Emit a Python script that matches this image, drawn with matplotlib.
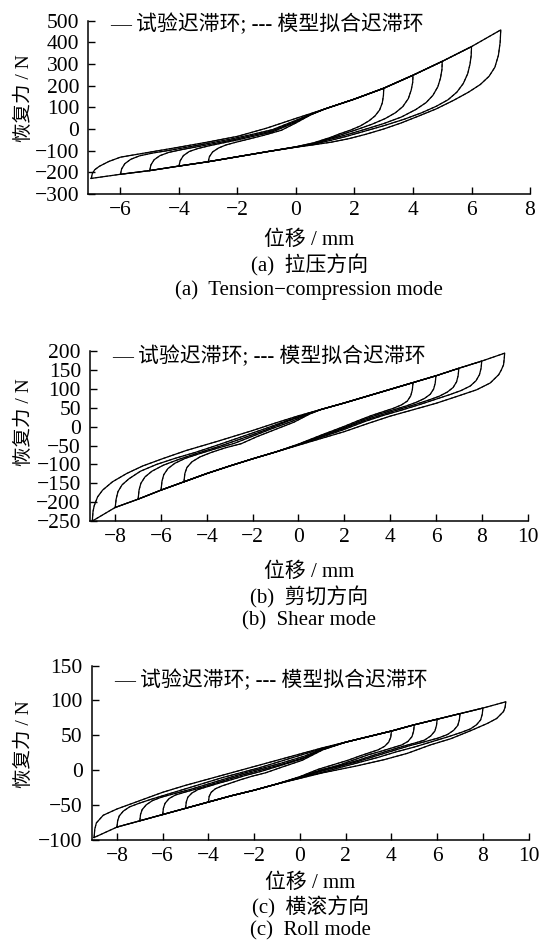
import matplotlib
matplotlib.use("Agg")
import matplotlib.pyplot as plt

plt.rcParams['font.family'] = ['Liberation Serif', 'Noto Sans CJK SC']
plt.rcParams['axes.unicode_minus'] = True

LEGEND_TXT = "— 试验迟滞环; --- 模型拟合迟滞环"
Y_LABEL = "恢复力 / N"
X_LABEL = "位移 / mm"

# ---- (a) tension-compression ----
A_AMPS = [3, 4, 5, 6, 7]
A_UP_X = [1, 2, 3, 4, 5, 6, 7]
A_UP_F = [93, 138, 188, 248, 312, 380, 457]
A_LO_X = [-1, -2, -3, -4, -5, -6, -7]
A_LO_F = [-105, -128, -151, -171, -192, -209, -228]
A_LT_X = [[-3, -2.96, -2.85, -2.65, -2.4, -2.05, -1.6, -1.1, -0.5, 0, 0.5],
          [-4, -3.96, -3.85, -3.65, -3.35, -2.95, -2.45, -1.95, -1.4, -0.8, 0, 0.5],
          [-5, -4.96, -4.85, -4.65, -4.35, -3.9, -3.3, -2.7, -2.1, -1.5, -0.8, 0, 0.5],
          [-6, -5.96, -5.85, -5.65, -5.35, -4.9, -4.3, -3.6, -2.9, -2.2, -1.5, -0.8, 0, 0.5],
          [-7, -6.96, -6.88, -6.72, -6.4, -6, -5, -4, -3, -2, -1, 0]]
A_LT_F = [[-151, -128, -106, -88, -74, -61, -46, -29, -6, 28, 65],
          [-171, -147, -123, -104, -90, -77, -63, -49, -32, -13, 32, 66],
          [-192, -166, -142, -123, -108, -95, -80, -65, -49, -30, -8, 36, 67],
          [-209, -184, -160, -140, -124, -111, -98, -81, -64, -46, -25, -3, 40, 68],
          [-228, -205, -188, -172, -150, -130, -107, -84, -60, -34, 4, 49]]
A_RT_X = [[3, 2.99, 2.95, 2.86, 2.7, 2.5, 2.2, 1.85, 1.5, 1.2, 0.6, 0],
          [4, 3.99, 3.94, 3.84, 3.65, 3.4, 3.05, 2.6, 2.1, 1.6, 1.2, 0.6, 0],
          [5, 4.99, 4.94, 4.85, 4.68, 4.45, 4.1, 3.6, 3.0, 2.4, 1.8, 1.2, 0.6, 0],
          [6, 5.99, 5.95, 5.87, 5.72, 5.5, 5.2, 4.8, 4.3, 3.7, 3.0, 2.3, 1.7, 1.2, 0.6, 0],
          [7, 6.98, 6.92, 6.8, 6.6, 6.3, 5.9, 5.4, 4.8, 4.2, 3.6, 3.0, 2.4, 1.8, 1.2, 0.6, 0]]
A_RT_F = [[188, 155, 120, 88, 60, 38, 14, -6, -22, -38, -64, -82],
          [248, 215, 180, 140, 103, 75, 48, 22, -2, -24, -42, -67, -82.5],
          [312, 275, 235, 195, 155, 122, 90, 55, 25, 0, -24, -46, -69, -83],
          [380, 340, 300, 255, 210, 170, 135, 105, 75, 45, 15, -12, -35, -52, -71, -83.5],
          [457, 400, 340, 285, 243, 205, 170, 133, 93, 60, 28, 0, -24, -45, -61, -73, -84]]

# ---- (b) shear ----
B_AMPS = [5, 6, 7, 8, 9]
B_UP_X = [1, 2, 3, 4, 5, 6, 7, 8, 9]
B_UP_F = [46, 63, 81, 99, 117, 135, 155, 174, 195]
B_LO_X = [1, 0, -1, -2, -3, -4, -5, -6, -7, -8, -9]
B_LO_F = [-31, -49, -67, -85, -104, -124, -146, -168, -192, -214, -250]
B_LT_X = [[-5, -4.96, -4.87, -4.65, -4.3, -3.8, -3.2, -2.5, -1.8, -1, -0.2, 0.5],
          [-6, -5.96, -5.88, -5.7, -5.4, -4.95, -4.35, -3.6, -2.8, -2, -1.2, -0.3, 0.5],
          [-7, -6.96, -6.88, -6.7, -6.4, -5.9, -5.2, -4.4, -3.5, -2.5, -1.5, -0.5, 0.5],
          [-8, -7.96, -7.88, -7.7, -7.4, -6.9, -6.2, -5.4, -4.5, -3.5, -2.5, -1.5, -0.5, 0.5],
          [-9, -8.97, -8.92, -8.77, -8.55, -8.12, -7.5, -6.8, -5.9, -4.9, -3.5, -2, -1, 0]]
B_LT_F = [[-146, -124, -108, -93, -80, -68, -56, -45, -26, -7, 12, 34],
          [-168, -145, -127, -111, -97, -84, -72, -58, -44, -25, -6, 14, 35],
          [-192, -168, -150, -133, -118, -102, -86, -70, -53, -32, -10, 14, 36],
          [-214, -192, -172, -154, -138, -118, -100, -84, -68, -48, -27, -6, 16, 37],
          [-250, -225, -210, -186, -168, -146, -124, -104, -84, -63, -38, -10, 10, 29]]
B_RT_X = [[5, 4.97, 4.9, 4.75, 4.5, 4.15, 3.7, 3.2, 2.6, 2, 1, 0],
          [6, 5.97, 5.9, 5.75, 5.5, 5.15, 4.7, 4.1, 3.5, 2.8, 2, 1, 0],
          [7, 6.97, 6.9, 6.75, 6.5, 6.15, 5.7, 5.1, 4.4, 3.7, 2.9, 2, 1, 0],
          [8, 7.97, 7.9, 7.75, 7.5, 7.1, 6.6, 6, 5.3, 4.5, 3.7, 2.9, 2, 1, 0],
          [9, 8.98, 8.95, 8.85, 8.74, 8.37, 7.78, 6.9, 6, 5, 4, 3, 2]]
B_RT_F = [[117, 98, 82, 68, 58, 49, 40, 30, 16, 1, -22, -46],
          [135, 116, 100, 86, 75, 65, 55, 44, 33, 18, -2, -24, -47],
          [155, 136, 119, 104, 92, 81, 71, 59, 46, 33, 17, -4, -26, -47.5],
          [174, 155, 138, 122, 108, 96, 85, 73, 59, 44, 30, 14, -7, -28, -48],
          [195, 180, 164, 150, 138, 116, 98, 80, 62, 45, 28, 8, -13]]

# ---- (c) roll ----
C_AMPS = [4, 5, 6, 7, 8, 9]
C_UP_X = [2, 3, 4, 5, 6, 7, 8, 9]
C_UP_F = [40, 48, 56, 65, 73, 81, 89, 98]
C_LO_X = [1, 0, -1, -2, -3, -4, -5, -6, -7, -8, -9]
C_LO_F = [-4, -12, -20, -29, -37, -46, -55, -64, -73, -82, -97]
C_LT_X = [[-4, -3.97, -3.88, -3.7, -3.42, -3.05, -2.6, -2.1, -1.5, -0.8, 0.1, 1],
          [-5, -4.97, -4.9, -4.72, -4.45, -4.05, -3.55, -3, -2.4, -1.7, -0.9, 0.1, 1],
          [-6, -5.97, -5.9, -5.72, -5.45, -5.05, -4.5, -3.9, -3.2, -2.5, -1.7, -0.8, 0.2, 1],
          [-7, -6.97, -6.9, -6.72, -6.45, -6.05, -5.5, -4.8, -4.1, -3.3, -2.5, -1.7, -0.8, 0.2, 1],
          [-8, -7.97, -7.9, -7.72, -7.45, -7.05, -6.5, -5.8, -5, -4.2, -3.4, -2.6, -1.8, -1, 0, 1],
          [-9, -8.97, -8.9, -8.6, -8, -7, -6, -5, -4, -3, -2, -1, 0, 1]]
C_LT_F = [[-46, -38, -32, -27, -23, -19, -14, -9, -4, 4, 14, 29],
          [-55, -46, -39, -33, -28, -24, -19, -14, -8, -2, 6, 16, 29.5],
          [-64, -55, -48, -41, -36, -32, -27, -21, -14, -7, 0, 8, 18, 30],
          [-73, -64, -57, -50, -44, -39, -34, -28, -21, -13, -5, 2, 10, 20, 30.5],
          [-82, -73, -66, -59, -53, -48, -42, -35, -27, -19, -11, -4, 3, 11, 21, 31],
          [-97, -85, -76, -65, -56, -44, -32, -22, -13, -4, 5, 14, 23, 32]]
C_RT_X = [[4, 3.97, 3.88, 3.7, 3.42, 3.05, 2.6, 2.1, 1.5, 0.8, 0],
          [5, 4.97, 4.9, 4.72, 4.45, 4.05, 3.55, 3, 2.4, 1.7, 0.9, 0],
          [6, 5.97, 5.9, 5.72, 5.45, 5.05, 4.5, 3.9, 3.2, 2.5, 1.7, 0.9, 0],
          [7, 6.97, 6.9, 6.72, 6.45, 6.05, 5.5, 4.8, 4.1, 3.3, 2.5, 1.7, 0.9, 0],
          [8, 7.97, 7.9, 7.72, 7.45, 7.05, 6.5, 5.8, 5, 4.2, 3.4, 2.6, 1.8, 1, 0],
          [9, 8.97, 8.9, 8.6, 8.2, 7.5, 6.6, 5.7, 4.7, 3.7, 2.5]]
C_RT_F = [[56, 47, 40, 34, 29, 25, 20, 14, 8, 1, -9.5],
          [65, 56, 48, 41, 36, 32, 27, 22, 15, 7, 0, -10],
          [73, 64, 56, 49, 43, 39, 34, 28, 21, 13.5, 6, -1, -10.5],
          [81, 72, 64, 57, 51, 46, 41, 35, 28, 20, 12, 5, -2, -11],
          [89, 80, 72, 65, 59, 54, 48, 41, 33, 26, 18, 11, 4, -3, -11.5],
          [98, 90, 84, 74, 67, 57, 45, 36, 24, 15, 6]]


def make_loop(amp, lt_x, lt_f, rt_x, rt_f, up_x, up_f, lo_x, lo_f):
  # loading branch: left turn, then the shared upper curve up to +amp
  xs, fs = list(lt_x), list(lt_f)
  for x, f in zip(up_x, up_f):
    if lt_x[-1] < x < amp:
      xs.append(x); fs.append(f)
  # unloading branch: right turn, then the shared lower curve back to -amp
  xs += rt_x; fs += rt_f
  for x, f in zip(lo_x, lo_f):
    if -amp < x < rt_x[-1]:
      xs.append(x); fs.append(f)
  xs.append(lt_x[0]); fs.append(lt_f[0])
  return xs, fs


def draw_panel(fig, rect, data, xlim, ylim, xticks, yticks, leg_y, ylab_xy,
               xlab_y, cap_cn, cap_en, cap_y1, cap_y2):
  amps, up_x, up_f, lo_x, lo_f, lt_x, lt_f, rt_x, rt_f = data
  ax = fig.add_axes(rect)
  for i, a in enumerate(amps):
    xs, fs = make_loop(a, lt_x[i], lt_f[i], rt_x[i], rt_f[i], up_x, up_f, lo_x, lo_f)
    ax.plot(xs, fs, color='black', lw=0.9)
    ax.plot(xs, fs, color='black', lw=0.7, linestyle=(0, (3, 2)))
  ax.set_xlim(*xlim)
  ax.set_ylim(*ylim)
  ax.set_xticks(xticks)
  ax.set_yticks(yticks)
  for s in ['top', 'right']:
    ax.spines[s].set_visible(False)
  for s in ['left', 'bottom']:
    ax.spines[s].set_linewidth(1.1)
  ax.tick_params(direction='in', length=5, width=1.0, labelsize=15.5)
  ax.tick_params(axis='y', pad=6.5)
  ax.tick_params(axis='x', pad=5)
  ax.text(0.05, leg_y, LEGEND_TXT, transform=ax.transAxes, ha='left',
          va='center', fontsize=15)
  ax.set_ylabel(Y_LABEL, fontsize=14)
  ax.yaxis.set_label_coords(*ylab_xy)
  cx = rect[0] + rect[2] / 2
  fig.text(cx, xlab_y, X_LABEL, ha='center', va='center', fontsize=15)
  fig.text(cx, cap_y1, cap_cn, ha='center', va='center', fontsize=15)
  fig.text(cx, cap_y2, cap_en, ha='center', va='center', fontsize=15)
  return ax


def main():
  fig = plt.figure(figsize=(5.4, 9.4), dpi=100)
  H = 940.0
  draw_panel(fig, [0.1635, 0.7936, 0.818, 0.1845],
             (A_AMPS, A_UP_X, A_UP_F, A_LO_X, A_LO_F, A_LT_X, A_LT_F, A_RT_X, A_RT_F),
             (-7.1, 8), (-300, 500), [-6, -4, -2, 0, 2, 4, 6, 8],
             [-300, -200, -100, 0, 100, 200, 300, 400, 500],
             0.975, (-0.125, 0.554), 1 - 240 / H,
             "(a)  拉压方向", "(a)  Tension\u2212compression mode",
             1 - 265 / H, 1 - 290 / H)
  draw_panel(fig, [0.1667, 0.4457, 0.8103, 0.1806],
             (B_AMPS, B_UP_X, B_UP_F, B_LO_X, B_LO_F, B_LT_X, B_LT_F, B_RT_X, B_RT_F),
             (-9.1, 10), (-250, 200), [-8, -6, -4, -2, 0, 2, 4, 6, 8, 10],
             [-250, -200, -150, -100, -50, 0, 50, 100, 150, 200],
             0.968, (-0.13, 0.583), 1 - 572 / H,
             "(b)  剪切方向", "(b)  Shear mode",
             1 - 597 / H, 1 - 621 / H)
  draw_panel(fig, [0.17, 0.1068, 0.809, 0.1851],
             (C_AMPS, C_UP_X, C_UP_F, C_LO_X, C_LO_F, C_LT_X, C_LT_F, C_RT_X, C_RT_F),
             (-9.1, 10), (-100, 150), [-8, -6, -4, -2, 0, 2, 4, 6, 8, 10],
             [-100, -50, 0, 50, 100, 150],
             0.917, (-0.134, 0.55), 1 - 883 / H,
             "(c)  横滚方向", "(c)  Roll mode",
             1 - 907 / H, 1 - 931 / H)
  fig.savefig("out.png", dpi=100)


if __name__ == "__main__":
  main()
